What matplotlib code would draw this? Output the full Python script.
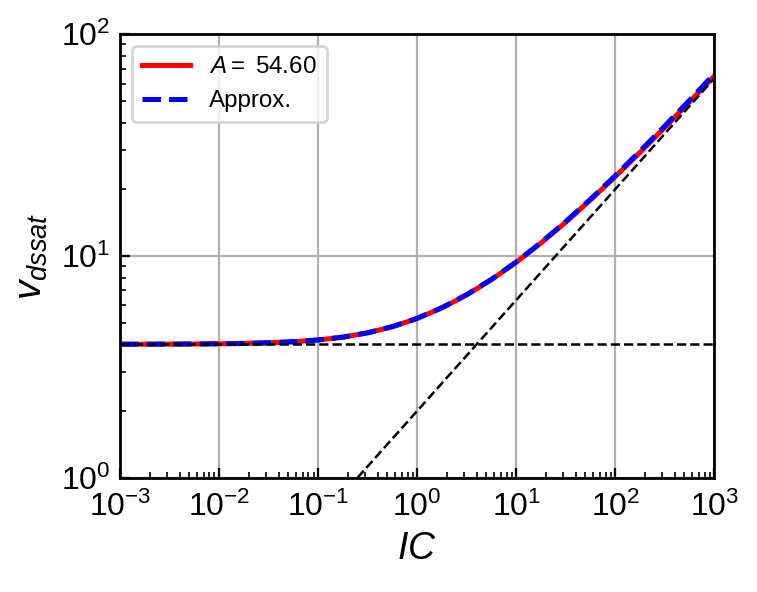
import numpy as np
import matplotlib.pyplot as plt
from matplotlib.ticker import NullFormatter

plt.rcParams['font.family'] = ['Liberation Sans', 'DejaVu Sans']
plt.rcParams['mathtext.fontset'] = 'custom'
plt.rcParams['mathtext.it'] = 'Liberation Sans:italic'
plt.rcParams['mathtext.rm'] = 'Liberation Sans'

# inversion coefficient samples (log spaced)
ic = np.array([1e-3, 1.778e-3, 3.162e-3, 5.623e-3, 1e-2, 1.778e-2, 3.162e-2, 5.623e-2,
               0.1, 0.1778, 0.3162, 0.5623, 1.0, 1.778, 3.162, 5.623,
               10.0, 17.78, 31.62, 56.23, 100.0, 177.8, 316.2, 562.3, 1000.0])

vdssat_model = np.array([4.002, 4.004, 4.006, 4.011, 4.020, 4.035, 4.061, 4.106,
                         4.182, 4.306, 4.502, 4.798, 5.228, 5.835, 6.675, 7.82,
                         9.37, 11.44, 14.20, 17.90, 22.80, 29.30, 38.00, 49.60, 64.8])

vdssat_approx = np.array([4.002, 4.004, 4.006, 4.011, 4.020, 4.035, 4.061, 4.107,
                          4.183, 4.308, 4.505, 4.803, 5.236, 5.848, 6.694, 7.847,
                          9.40, 11.49, 14.29, 18.03, 23.02, 29.69, 38.58, 50.44, 66.25])

A = 54.60

# asymptotes
weak_x = [1e-3, 1e3]
weak_y = [4.0, 4.0]
strong_x = [0.25, 1000.0]
strong_y = [1.0, 63.25]

fig = plt.figure(figsize=(3.785, 2.96), dpi=200)
ax = fig.add_axes([0.1585, 0.193, 0.785, 0.749])

ax.plot(ic, vdssat_model, color='red', lw=1.8, label=f'$A=$ {A:.2f}')
ax.plot(ic, vdssat_approx, color='blue', lw=1.8, ls='--', label='Approx.')
ax.plot(weak_x, weak_y, color='black', lw=0.9, ls='--')
ax.plot(strong_x, strong_y, color='black', lw=0.9, ls='--')

ax.set_xscale('log')
ax.set_yscale('log')
ax.set_xlim(1e-3, 1e3)
ax.set_ylim(1, 100)
ax.xaxis.set_minor_formatter(NullFormatter())
ax.yaxis.set_minor_formatter(NullFormatter())
ax.grid(True, which='major', color='#b0b0b0', lw=0.8)
ax.tick_params(which='both', direction='in', labelsize=11.5)
ax.tick_params(axis='x', which='major', pad=5)
ax.tick_params(which='major', length=3.5, width=0.8)
ax.tick_params(which='minor', length=2, width=0.6)
for s in ax.spines.values():
    s.set_linewidth(1.0)

ax.set_xlabel('$IC$', fontsize=13.5, labelpad=3)
ax.set_ylabel('$v_{dssat}$', fontsize=14)
ax.legend(loc='upper left', fontsize=8.7)

fig.savefig('out.png', dpi=200)
